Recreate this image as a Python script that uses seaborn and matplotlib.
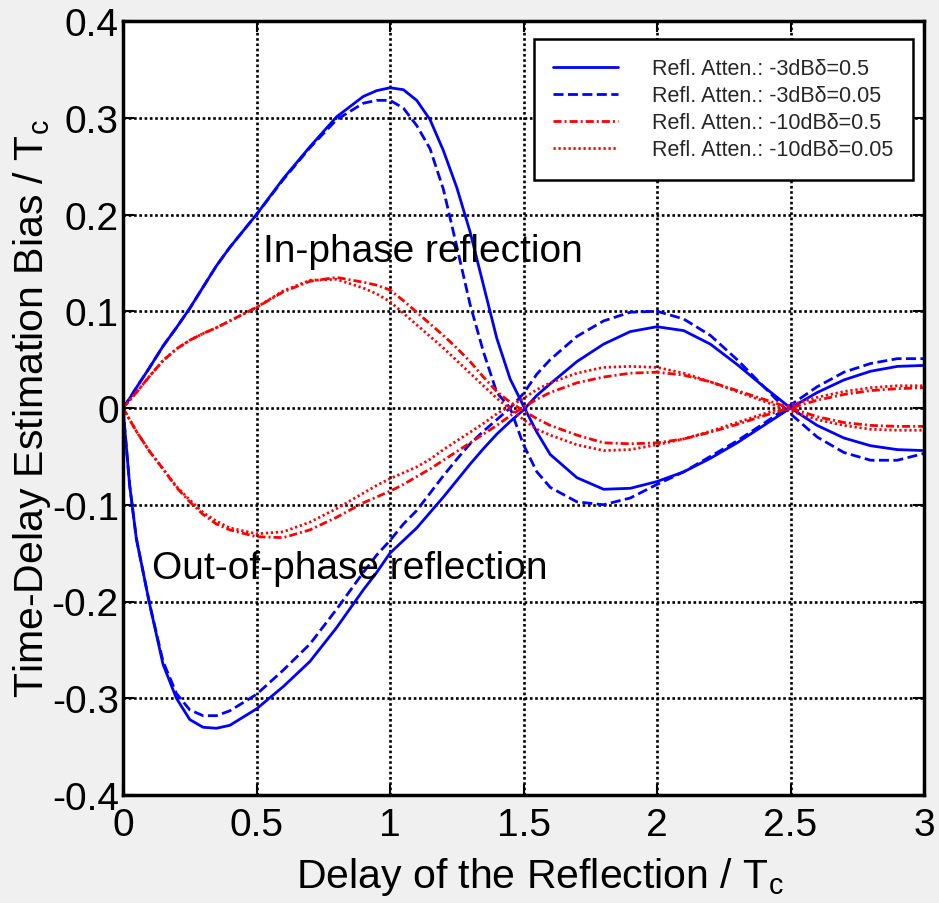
import numpy as np
import pandas as pd
import matplotlib
matplotlib.use("Agg")
import matplotlib.pyplot as plt
import seaborn as sns

# ---------------- data ----------------
delay = [0, 0.025, 0.05, 0.1, 0.15, 0.2, 0.25, 0.3, 0.35, 0.4, 0.5, 0.6, 0.7, 0.8, 0.9,
         0.95, 1.0, 1.05, 1.1, 1.15, 1.2, 1.25, 1.3, 1.35, 1.4, 1.45, 1.5, 1.55, 1.6,
         1.7, 1.8, 1.9, 2.0, 2.1, 2.2, 2.3, 2.4, 2.5, 2.6, 2.7, 2.8, 2.9, 3.0]

# -3 dB, delta = 0.5 (solid blue)
b05_in = [0, 0.010, 0.021, 0.042, 0.064, 0.083, 0.103, 0.125, 0.147, 0.166, 0.200, 0.237,
          0.270, 0.301, 0.322,
          0.328, 0.331, 0.329, 0.318, 0.298, 0.266, 0.228, 0.182, 0.127, 0.072, 0.030,
          0.002, -0.025, -0.048,
          -0.072, -0.084, -0.083, -0.076, -0.066, -0.052, -0.036, -0.018, 0.000, 0.016,
          0.029, 0.038, 0.043, 0.044]
b05_out = [0, -0.080, -0.135, -0.203, -0.265, -0.300, -0.322, -0.330, -0.331, -0.328,
           -0.311, -0.288, -0.262, -0.227, -0.188,
           -0.170, -0.150, -0.137, -0.124, -0.108, -0.092, -0.075, -0.058, -0.042, -0.027,
           -0.014, -0.002, 0.013, 0.025,
           0.048, 0.066, 0.079, 0.084, 0.080, 0.066, 0.045, 0.022, 0.000, -0.018, -0.031,
           -0.039, -0.043, -0.044]
# -3 dB, delta = 0.05 (dashed blue)
b005_in = [0, 0.010, 0.021, 0.042, 0.064, 0.083, 0.103, 0.125, 0.147, 0.166, 0.200, 0.236,
           0.269, 0.298, 0.315,
           0.318, 0.318, 0.310, 0.292, 0.268, 0.226, 0.167, 0.107, 0.058, 0.016, 0.000,
           -0.038, -0.066, -0.082,
           -0.097, -0.100, -0.093, -0.079, -0.066, -0.050, -0.034, -0.016, 0.003, 0.022,
           0.037, 0.046, 0.051, 0.051]
b005_out = [0, -0.080, -0.135, -0.203, -0.262, -0.295, -0.312, -0.318, -0.318, -0.313,
            -0.296, -0.271, -0.244, -0.208, -0.170,
            -0.152, -0.137, -0.120, -0.106, -0.088, -0.070, -0.053, -0.037, -0.024, -0.012,
            0.000, 0.015, 0.035, 0.050,
            0.074, 0.090, 0.099, 0.100, 0.092, 0.075, 0.050, 0.022, -0.006, -0.030, -0.046,
            -0.054, -0.054, -0.047]
# -10 dB, delta = 0.5 (dash-dot red)
r05_in = [0, 0.008, 0.016, 0.033, 0.049, 0.061, 0.070, 0.077, 0.083, 0.090, 0.104, 0.120,
          0.131, 0.135, 0.130,
          0.127, 0.122, 0.111, 0.099, 0.087, 0.075, 0.062, 0.048, 0.032, 0.017, 0.006,
          -0.003, -0.011, -0.018,
          -0.028, -0.036, -0.037, -0.036, -0.032, -0.025, -0.017, -0.008, 0.000, 0.008,
          0.014, 0.018, 0.020, 0.021]
r05_out = [0, -0.012, -0.024, -0.045, -0.063, -0.082, -0.097, -0.110, -0.120, -0.126,
           -0.133, -0.134, -0.126, -0.113, -0.098,
           -0.092, -0.086, -0.079, -0.071, -0.063, -0.054, -0.045, -0.036, -0.027, -0.018,
           -0.008, 0.001, 0.009, 0.016,
           0.026, 0.032, 0.036, 0.037, 0.034, 0.027, 0.018, 0.009, 0.000, -0.009, -0.015,
           -0.018, -0.019, -0.019]
# -10 dB, delta = 0.05 (dotted red)
r005_in = [0, 0.008, 0.016, 0.033, 0.049, 0.061, 0.070, 0.077, 0.083, 0.090, 0.104, 0.121,
           0.132, 0.133, 0.124,
           0.118, 0.110, 0.098, 0.086, 0.074, 0.062, 0.049, 0.036, 0.023, 0.010, -0.001,
           -0.012, -0.022, -0.028,
           -0.038, -0.044, -0.043, -0.038, -0.032, -0.024, -0.015, -0.006, 0.003, 0.011,
           0.017, 0.021, 0.023, 0.023]
r005_out = [0, -0.012, -0.024, -0.045, -0.063, -0.081, -0.095, -0.108, -0.117, -0.124,
            -0.130, -0.128, -0.118, -0.104, -0.088,
            -0.080, -0.073, -0.067, -0.061, -0.053, -0.043, -0.034, -0.025, -0.016, -0.006,
            0.002, 0.010, 0.019, 0.026,
            0.036, 0.042, 0.043, 0.042, 0.036, 0.027, 0.017, 0.007, -0.003, -0.012, -0.018,
            -0.022, -0.023, -0.023]

legend_labels = ["Refl. Atten.: -3dB\u03b4=0.5", "Refl. Atten.: -3dB\u03b4=0.05",
                 "Refl. Atten.: -10dB\u03b4=0.5", "Refl. Atten.: -10dB\u03b4=0.05"]
x_ticks = [0, 0.5, 1, 1.5, 2, 2.5, 3]
x_ticklabels = ["0", "0.5", "1", "1.5", "2", "2.5", "3"]
y_ticks = [-0.4, -0.3, -0.2, -0.1, 0, 0.1, 0.2, 0.3, 0.4]
y_ticklabels = ["-0.4", "-0.3", "-0.2", "-0.1", "0", "0.1", "0.2", "0.3", "0.4"]

# ---------------- style ----------------
sns.set_theme(style="white")
plt.rcParams["font.family"] = ["Liberation Sans", "DejaVu Sans"]
plt.rcParams["mathtext.fontset"] = "custom"
plt.rcParams["mathtext.rm"] = "Liberation Sans"
plt.rcParams["mathtext.it"] = "Liberation Sans"
plt.rcParams["axes.unicode_minus"] = False

fig = plt.figure(figsize=(9.39, 9.04), dpi=100)
fig.patch.set_facecolor("#f0f0f0")
ax = fig.add_axes([123 / 939, 1 - 796 / 904, (924 - 123) / 939, (796 - 22) / 904])
ax.set_facecolor("white")

series = [
    (b05_in, b05_out, "#0000ff", "-", legend_labels[0]),
    (b005_in, b005_out, "#0000ff", (0, (3.6, 1.6)), legend_labels[1]),
    (r05_in, r05_out, "#ff0000", (0, (2.9, 1.1, 0.7, 1.1)), legend_labels[2]),
    (r005_in, r005_out, "#ff0000", (0, (0.8, 1.0)), legend_labels[3]),
]
handles = []
for yin, yout, col, ls, lab in series:
    sns.lineplot(x=delay, y=yin, ax=ax, color=col, linewidth=2.0, linestyle=ls)
    sns.lineplot(x=delay, y=yout, ax=ax, color=col, linewidth=2.0, linestyle=ls)
    handles.append(plt.Line2D([], [], color=col, linewidth=2.0, linestyle=ls, label=lab))

ax.set_xlim(0, 3)
ax.set_ylim(-0.4, 0.4)
ax.set_xticks(x_ticks)
ax.set_xticklabels(x_ticklabels)
ax.set_yticks(y_ticks)
ax.set_yticklabels(y_ticklabels)
ax.tick_params(axis="both", which="both", direction="in", length=8, width=1.5,
               labelsize=28, top=True, right=True, bottom=True, left=True,
               colors="black", pad=3)
ax.tick_params(axis="x", pad=9)
ax.grid(True, color="black", linestyle=(0, (1, 1)), linewidth=1.9)
for sp in ax.spines.values():
    sp.set_visible(True)
    sp.set_color("black")
    sp.set_linewidth(2.5)

ax.set_xlabel(r"Delay of the Reflection / T$_\mathrm{c}$", fontsize=29.5, labelpad=8, color="black")
ax.set_ylabel(r"Time-Delay Estimation Bias / T$_\mathrm{c}$", fontsize=29.5, labelpad=-1, color="black")
ax.xaxis.label.set_x(0.52)

ax.text(0.524, 0.162, "In-phase reflection", fontsize=28, color="black", va="center", ha="left")
ax.text(0.109, -0.165, "Out-of-phase reflection", fontsize=28, color="black", va="center", ha="left")

leg = ax.legend(handles=handles, loc="upper left",
                bbox_to_anchor=((534 - 123) / (924 - 123), 1 - (40 - 22) / (796 - 22)),
                fontsize=15.5, handlelength=3.0, handletextpad=1.6, labelspacing=0.28,
                borderpad=0.9, frameon=True, fancybox=False, framealpha=1.0,
                edgecolor="black", borderaxespad=0)
leg.get_frame().set_linewidth(1.8)

fig.savefig("out.png", dpi=100, facecolor=fig.get_facecolor())
